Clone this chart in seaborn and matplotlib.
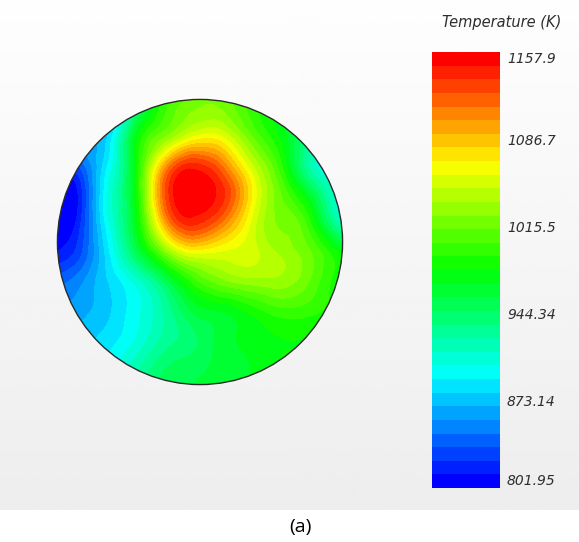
import numpy as np
import matplotlib
matplotlib.use("Agg")
import matplotlib.pyplot as plt
import matplotlib.tri as mtri
from matplotlib.colors import ListedColormap, BoundaryNorm
from matplotlib.cm import ScalarMappable
from matplotlib.patches import Circle
import seaborn as sns

# Temperature (K) on a 12x12 grid (disc radius = 1),
# grid placed so that one node sits on the hottest spot
grid_u = [-1.047, -0.847, -0.647, -0.447, -0.247, -0.047, 0.153, 0.353, 0.553, 0.753, 0.953, 1.153]
grid_v = [1.138, 0.938, 0.738, 0.538, 0.338, 0.138, -0.062, -0.262, -0.462, -0.662, -0.862, -1.062]
temp_rows = [
    [866, 873, 873, 919, 962, 998, 1016, 998, 962, 937, 919, 909],
    [866, 880, 873, 937, 998, 1023, 1023, 998, 969, 937, 909, 902],
    [845, 866, 880, 973, 1023, 1058, 1058, 1016, 980, 937, 909, 902],
    [816, 838, 891, 980, 1094, 1140, 1112, 1051, 998, 927, 898, 895],
    [802, 816, 902, 980, 1122, 1158, 1140, 1073, 1016, 966, 909, 902],
    [802, 820, 898, 973, 1094, 1140, 1112, 1058, 1023, 998, 927, 920],
    [813, 830, 887, 952, 1023, 1065, 1058, 1051, 1033, 1016, 980, 962],
    [838, 852, 880, 909, 952, 998, 1023, 1033, 1033, 1016, 987, 980],
    [852, 863, 877, 898, 927, 962, 973, 987, 1001, 998, 987, 980],
    [863, 873, 884, 902, 927, 944, 962, 973, 980, 980, 980, 980],
    [873, 880, 895, 919, 944, 952, 962, 969, 980, 980, 980, 980],
    [880, 891, 909, 934, 952, 959, 966, 973, 980, 980, 980, 980],
]

t_min, t_max = 801.95, 1157.9
n_bands = 32
tick_vals = [1157.9, 1086.7, 1015.5, 944.34, 873.14, 801.95]
tick_text = ["1157.9", "1086.7", "1015.5", "944.34", "873.14", "801.95"]

sns.set_theme(style="white")
plt.rcParams["font.family"] = ["DejaVu Sans"]

rainbow = sns.blend_palette(["#0000ff", "#00ffff", "#00ff00", "#ffff00", "#ff0000"], as_cmap=True)
cmap = ListedColormap(rainbow(np.linspace(0, 1, n_bands)))
cmap.set_over("#ff0000")
cmap.set_under("#0000ff")
levels = np.linspace(t_min, t_max, n_bands + 1)
norm = BoundaryNorm(levels, n_bands)

fig = plt.figure(figsize=(5.79, 5.42), dpi=100)
fig.patch.set_facecolor("white")

# light grey panel behind the plot
bg = fig.add_axes([0, 32 / 542, 1, 510 / 542], zorder=-5)
bg.imshow(np.linspace(0.995, 0.93, 200).reshape(-1, 1), cmap="gray", vmin=0, vmax=1,
          aspect="auto", extent=[0, 1, 0, 1])
bg.axis("off")

uu, vv = np.meshgrid(grid_u, grid_v)
tri = mtri.Triangulation(uu.ravel(), vv.ravel())
temps = np.array(temp_rows, dtype=float).ravel()
interp = mtri.CubicTriInterpolator(tri, temps, kind="min_E")
tri_f, temp_f = mtri.UniformTriRefiner(tri).refine_field(temps, interp, subdiv=4)

ax = fig.add_axes([56 / 579, 156 / 542, 288 / 579, 288 / 542])
ax.set_facecolor("none")
cs = ax.tricontourf(tri_f, temp_f, levels=levels, cmap=cmap, norm=norm, extend="both")
disc = Circle((0, 0), 1.0, transform=ax.transData, facecolor="none",
              edgecolor="#2b2b2b", linewidth=1.0, zorder=3)
ax.add_patch(disc)
cs.set_clip_path(disc)
ax.set_xlim(-1.01, 1.01)
ax.set_ylim(-1.01, 1.01)
ax.axis("off")

cax = fig.add_axes([432 / 579, 54 / 542, 68 / 579, 436 / 542])
cb = fig.colorbar(ScalarMappable(norm=norm, cmap=cmap), cax=cax)
cb.outline.set_visible(False)
cax.minorticks_off()
cax.set_yticks(tick_vals)
cax.set_yticklabels(tick_text)
cax.tick_params(axis="y", which="both", length=0, pad=5, labelsize=10, labelcolor="#2e2e2e")
labels = cax.get_yticklabels()
for lab in labels:
    lab.set_style("italic")
labels[0].set_verticalalignment("top")
labels[-1].set_verticalalignment("bottom")

fig.text(502 / 579, 1 - 22 / 542, "Temperature (K)", ha="center", va="center",
         fontsize=10.5, style="italic", color="#2e2e2e")
fig.text(300 / 579, 1 - 527 / 542, "(a)", ha="center", va="center",
         fontsize=14, color="black", family=["Open Sans", "DejaVu Sans"])

fig.savefig("out.png", dpi=100)
